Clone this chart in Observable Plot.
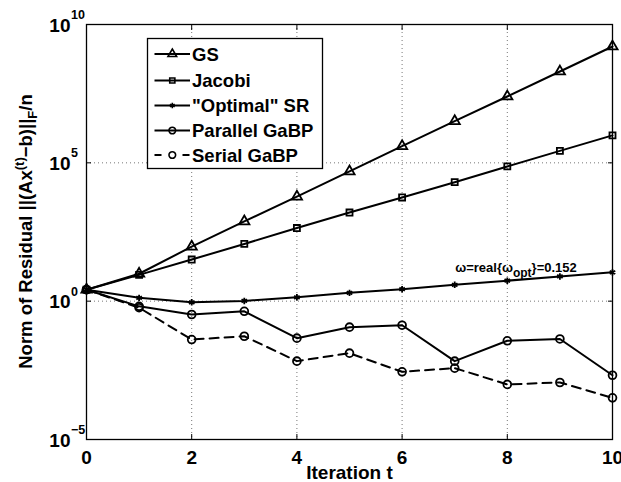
<!DOCTYPE html>
<html>
<head>
<meta charset="utf-8">
<script src="https://cdn.jsdelivr.net/npm/d3@7"></script>
<script src="https://cdn.jsdelivr.net/npm/@observablehq/plot@0.6"></script>
<style>
  html, body { margin: 0; padding: 0; background: #fff; }
  #chart svg { display: block; font-family: "Liberation Sans", Arial, Helvetica, sans-serif; font-weight: bold; }
</style>
</head>
<body>
<div id="chart"></div>
<script>
// ---- data ----
const iterations = [0, 1, 2, 3, 4, 5, 6, 7, 8, 9, 10];
const gs = [2.6, 9.8, 93, 760, 6.0e3, 4.9e4, 4.0e5, 3.2e6, 2.5e7, 2.0e8, 1.6e9];
const jacobi = [2.6, 8.9, 32, 117, 440, 1.6e3, 5.6e3, 2.0e4, 7.4e4, 2.7e5, 9.8e5];
const optimalSR = [2.6, 1.32, 0.91, 1.02, 1.38, 2.0, 2.7, 3.9, 5.5, 7.8, 11];
const parallelGaBP = [2.6, 0.65, 0.33, 0.43, 0.046, 0.115, 0.135, 0.0068, 0.037, 0.043, 0.0021];
const serialGaBP = [2.6, 0.58, 0.041, 0.054, 0.0068, 0.0132, 0.0028, 0.0038, 0.00098, 0.00115, 0.00032];
const seriesNames = ["GS", "Jacobi", "\"Optimal\" SR", "Parallel GaBP", "Serial GaBP"];
const xTicks = [0, 2, 4, 6, 8, 10];
const yTickExponents = [-5, 0, 5, 10];
const xLabel = "Iteration t";
const annotationParts = ["ω=real{ω", "opt", "}=0.152"];
const annotationAt = [7.0, 11];

// ---- styles ----
const seriesValues = [gs, jacobi, optimalSR, parallelGaBP, serialGaBP];
const symbols = ["triangle", "square", "asterisk", "circle", "circle"];
const radii = [3.8, 3.4, 3.0, 3.9, 3.9];
const dashes = [null, null, null, null, "9,6"];

const rows = seriesNames.flatMap((name, i) =>
  iterations.map((t, j) => ({ series: name, t, value: seriesValues[i][j] })));

const FONT = "Liberation Sans, Arial, Helvetica, sans-serif";
const AXIS_FS = 19;
const gridStyle = { stroke: "#777", strokeDasharray: "1,3", strokeWidth: 1 };

const marks = [
  Plot.ruleX(xTicks.slice(1, -1), gridStyle),
  Plot.ruleY(yTickExponents.slice(1, -1).map(e => 10 ** e), gridStyle),
  // inward ticks on all four sides
  Plot.axisX(xTicks, { anchor: "bottom", tickSize: -5, tickFormat: () => "", label: null, stroke: "black" }),
  Plot.axisX(xTicks, { anchor: "top", tickSize: -5, tickFormat: () => "", label: null, stroke: "black" }),
  Plot.axisY(yTickExponents.map(e => 10 ** e), { anchor: "left", tickSize: -5, tickFormat: () => "", label: null, stroke: "black" }),
  Plot.axisY(yTickExponents.map(e => 10 ** e), { anchor: "right", tickSize: -5, tickFormat: () => "", label: null, stroke: "black" }),
  // x tick labels
  Plot.axisX(xTicks, { anchor: "bottom", tickSize: 0, tickPadding: 10.5, label: null, fontSize: AXIS_FS, fontWeight: "bold", fontFamily: FONT, fill: "black" }),
  // y tick labels: "10" + superscript exponent
  Plot.text(yTickExponents, { y: e => 10 ** e, text: () => "10", frameAnchor: "left", textAnchor: "end", dx: -16, dy: 1, fontSize: AXIS_FS, fontWeight: "bold", fontFamily: FONT, fill: "black" }),
  Plot.text(yTickExponents, { y: e => 10 ** e, text: e => e < 0 ? "\u2212" + Math.abs(e) : String(e), frameAnchor: "left", textAnchor: "start", dx: -15.5, dy: -9.5, fontSize: 12.5, fontWeight: "bold", fontFamily: FONT, fill: "black" }),
  // x axis label
  Plot.text([xLabel], { frameAnchor: "bottom", dy: 33, lineAnchor: "middle", fontSize: AXIS_FS, fontWeight: "bold", fontFamily: FONT, fill: "black" }),
  // series lines and markers
  ...seriesNames.map((name, i) => Plot.line(rows.filter(d => d.series === name), {
    x: "t", y: "value", stroke: "black", strokeWidth: 2, strokeDasharray: dashes[i]
  })),
  ...seriesNames.map((name, i) => Plot.dot(rows.filter(d => d.series === name), {
    x: "t", y: "value", symbol: symbols[i], r: radii[i], stroke: "black", strokeWidth: 1.8, fill: "none"
  })),
  Plot.frame({ stroke: "black", strokeWidth: 1.3 })
];

const plot = Plot.plot({
  width: 621,
  height: 482,
  marginLeft: 86,
  marginRight: 9,
  marginTop: 24,
  marginBottom: 43,
  style: { fontFamily: FONT, fontWeight: "bold", background: "white", overflow: "visible" },
  x: { domain: [0, 10] },
  y: { type: "log", domain: [1e-5, 1e10] },
  marks
});

document.getElementById("chart").appendChild(plot);

// ---- rich text (super/subscripts) and legend ----
const svg = d3.select(plot);
const xs = plot.scale("x"), ys = plot.scale("y");

// y-axis label with superscript (t) and subscript F
const yl = svg.append("text")
  .attr("transform", `translate(32,${(24 + 439) / 2}) rotate(-90)`)
  .attr("text-anchor", "middle")
  .attr("font-size", 18.5).attr("font-weight", "bold").attr("font-family", FONT).attr("fill", "black");
yl.append("tspan").text("Norm of Residual ||(Ax");
yl.append("tspan").attr("font-size", 13).attr("dy", -8).text("(t)");
yl.append("tspan").attr("dy", 8).text("\u2212b)||");
yl.append("tspan").attr("font-size", 13).attr("dy", 5).text("F");
yl.append("tspan").attr("dy", -5).text("/n");

// annotation near the SR curve
const an = svg.append("text")
  .attr("x", xs.apply(annotationAt[0]) + 1)
  .attr("y", ys.apply(annotationAt[1]))
  .attr("text-anchor", "start")
  .attr("font-size", 13).attr("font-weight", "bold").attr("font-family", FONT).attr("fill", "black");
an.append("tspan").text(annotationParts[0]);
an.append("tspan").attr("font-size", 12).attr("dy", 5).text(annotationParts[1]);
an.append("tspan").attr("dy", -5).text(annotationParts[2]);

// legend
const lg = svg.append("g").attr("text-anchor", "start");
const lx = 147.5, ly = 38.5, lw = 175, lh = 130;
lg.append("rect").attr("x", lx).attr("y", ly).attr("width", lw).attr("height", lh)
  .attr("fill", "white").attr("stroke", "black").attr("stroke-width", 1.3);
const rowY = [54, 80.5, 105.5, 130.5, 155];
const symbolMap = { triangle: d3.symbolTriangle, square: d3.symbolSquare, asterisk: d3.symbolAsterisk, circle: d3.symbolCircle };
seriesNames.forEach((name, i) => {
  const y = rowY[i];
  const ln = lg.append("line").attr("x1", 154.5).attr("x2", 190).attr("y1", y).attr("y2", y)
    .attr("stroke", "black").attr("stroke-width", 2);
  if (dashes[i]) ln.attr("stroke-dasharray", "7,21");
  const r = radii[i] * 0.85;
  lg.append("path").attr("transform", `translate(172.3,${y})`)
    .attr("d", d3.symbol(symbolMap[symbols[i]], Math.PI * r * r)())
    .attr("fill", "none").attr("stroke", "black").attr("stroke-width", 1.6);
  lg.append("text").attr("x", 192).attr("y", y).attr("dy", "0.36em")
    .attr("text-anchor", "start")
    .attr("font-size", 18.5).attr("font-weight", "bold").attr("font-family", FONT).attr("fill", "black")
    .text(name);
});
</script>
</body>
</html>
